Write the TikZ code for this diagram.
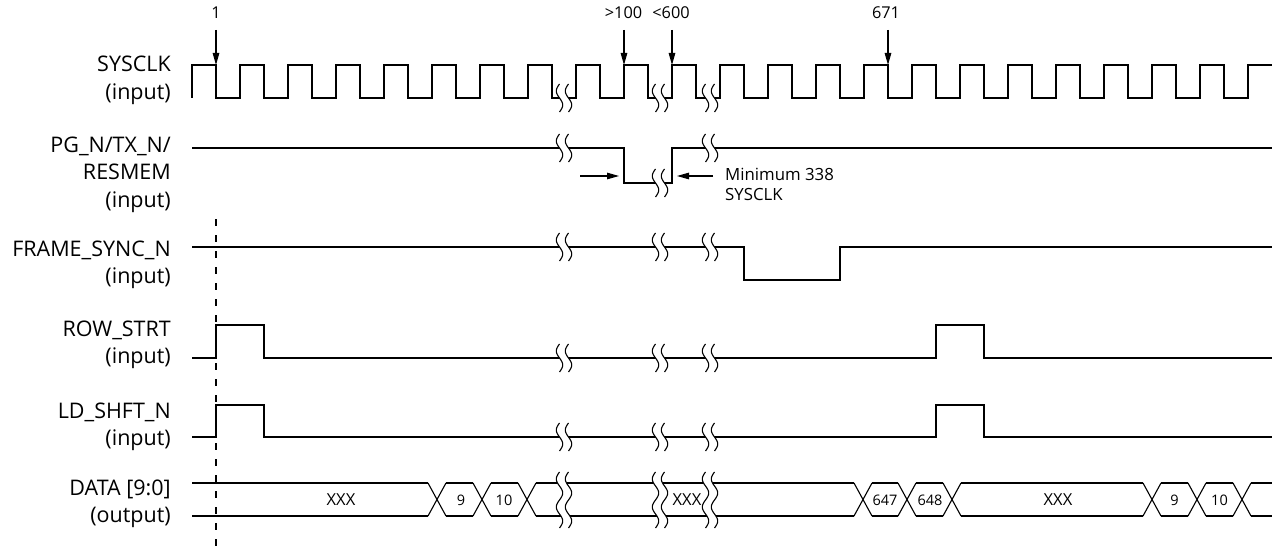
\documentclass[tikz,border=0pt]{standalone}
\usepackage{fontspec}
\setmainfont{Open Sans}
\usetikzlibrary{arrows.meta}
\tikzset{
  wave/.style={line width=1.1pt, line join=miter},
  sig/.style={font=\fontsize{21.5}{24}\selectfont, anchor=base east, inner sep=0pt},
  tick/.style={font=\fontsize{16.3}{18}\selectfont, anchor=base, inner sep=0pt},
  dlab/.style={font=\fontsize{14.5}{16}\selectfont, anchor=base, inner sep=0pt},
  xlab/.style={font=\fontsize{16.5}{18}\selectfont, anchor=base, inner sep=0pt},
  note/.style={font=\fontsize{16.8}{18}\selectfont, anchor=base west, inner sep=0pt},
  marker/.style={line width=1.1pt, -{Triangle[length=12pt,width=6.5pt]}},
  brkline/.style={line width=1.1pt},
}
% short break mark centred at (x,y)
\newcommand\brkmark[2]{%
  \begin{scope}[shift={(#1,#2)}]
    \fill[white] plot[domain=0:28,samples=25] ({-4.5-3.2*sin(12.857143*\x)},{\x-14}) --
      plot[domain=28:0,samples=25] ({4.5-3.2*sin(12.857143*\x)},{\x-14}) -- cycle;
    \draw[brkline] plot[domain=0:28,samples=25,smooth] ({-4.5-3.2*sin(12.857143*\x)},{\x-14});
    \draw[brkline] plot[domain=0:28,samples=25,smooth] ({4.5-3.2*sin(12.857143*\x)},{\x-14});
  \end{scope}}
% tall break mark centred at (x,y)
\newcommand\brkmarktall[2]{%
  \begin{scope}[shift={(#1,#2)}]
    \fill[white] plot[domain=0:56,samples=45] ({-4.5-3.2*sin(12.857143*\x)},{\x-28}) --
      plot[domain=56:0,samples=45] ({4.5-3.2*sin(12.857143*\x)},{\x-28}) -- cycle;
    \draw[brkline] plot[domain=0:56,samples=45,smooth] ({-4.5-3.2*sin(12.857143*\x)},{\x-28});
    \draw[brkline] plot[domain=0:56,samples=45,smooth] ({4.5-3.2*sin(12.857143*\x)},{\x-28});
  \end{scope}}
\begin{document}
\begin{tikzpicture}[x=1pt,y=-1pt]
\useasboundingbox[fill=white] (0,0) rectangle (1275,551);

% ---------- signal names ----------
\node[sig] (n1a) at (171,72) {SYSCLK};
\node[sig] (n1b) at (171,99.5) {(input)};
\node[sig] (n2a) at (171,152) {PG\_N/TX\_N/};
\node[sig] (n2b) at (171,179.5) {RESMEM};
\node[sig] (n2c) at (171,207) {(input)};
\node[sig] (n3a) at (171,256) {FRAME\_SYNC\_N};
\node[sig] (n3b) at (171,283.5) {(input)};
\node[sig] (n4a) at (171,336) {ROW\_STRT};
\node[sig] (n4b) at (171,363.5) {(input)};
\node[sig] (n5a) at (171,418) {LD\_SHFT\_N};
\node[sig] (n5b) at (171,445.5) {(input)};
\node[sig] (n6a) at (171,495) {DATA [9:0]};
\node[sig] (n6b) at (171,522.5) {(output)};

% ---------- dashed reference ----------
\coordinate (dtop) at (216,219);
\coordinate (dbot) at (216,551);
\draw[line width=1.1pt, dash pattern=on 7pt off 9pt] (dtop) -- (dbot);

% ---------- SYSCLK ----------
\draw[wave] (192,98) foreach \i in {1,...,22} { -- ++(0,-33) -- ++(24,0) -- ++(0,33) -- ++(24,0) } -- ++(0,-33) -- ++(24,0);
\brkmark{564}{98}\brkmark{660}{98}\brkmark{710}{98}

% ---------- PG_N/TX_N/RESMEM ----------
\draw[wave] (192,148) -- (624,148) -- (624,183) -- (672,183) -- (672,148) -- (1272,148);
\brkmark{564}{148}\brkmark{660}{183}\brkmark{710}{148}

% ---------- FRAME_SYNC_N ----------
\draw[wave] (192,247) -- (744,247) -- (744,280) -- (840,280) -- (840,247) -- (1272,247);
\brkmark{564}{247}\brkmark{660}{247}\brkmark{710}{247}

% ---------- ROW_STRT ----------
\draw[wave] (192,358) -- (216,358) -- (216,325) -- (264,325) -- (264,358) -- (936,358) -- (936,325) -- (984,325) -- (984,358) -- (1272,358);
\brkmark{564}{358}\brkmark{660}{358}\brkmark{710}{358}

% ---------- LD_SHFT_N ----------
\draw[wave] (192,437) -- (216,437) -- (216,405) -- (264,405) -- (264,437) -- (936,437) -- (936,405) -- (984,405) -- (984,437) -- (1272,437);
\brkmark{564}{437}\brkmark{660}{437}\brkmark{710}{437}

% ---------- DATA ----------
\foreach \a/\b in {192/428, 446/473, 491/518, 536/854, 872/898, 916/943, 961/1143, 1161/1188, 1206/1233, 1251/1272} {
  \draw[wave] (\a,483) -- (\b,483);
  \draw[wave] (\a,516) -- (\b,516);
}
\foreach \c in {437, 482, 527, 863, 907, 952, 1152, 1197, 1242} {
  \draw[wave] (\c-9,483) -- (\c+9,516);
  \draw[wave] (\c-9,516) -- (\c+9,483);
}
\brkmarktall{564}{500}\brkmarktall{660}{500}\brkmarktall{710}{500}
\node[xlab] (d1) at (341,505.5) {XXX};
\node[dlab] (d2) at (461,505.5) {9};
\node[dlab] (d3) at (504,505.5) {10};
\node[xlab] (d4) at (687,505.5) {XXX};
\node[dlab] (d5) at (885,505.5) {647};
\node[dlab] (d6) at (930,505.5) {648};
\node[xlab] (d7) at (1058,505.5) {XXX};
\node[dlab] (d8) at (1174.5,505.5) {9};
\node[dlab] (d9) at (1219.5,505.5) {10};

% ---------- clock markers ----------
\node[tick] (t1) at (216,19) {1};
\node[tick] (t2) at (623.5,19) {>100};
\node[tick] (t3) at (671,19) {<600};
\node[tick] (t4) at (886,19) {671};
\coordinate (e1) at (216,65);
\coordinate (e2) at (624,65);
\coordinate (e3) at (672,65);
\coordinate (e4) at (888,65);
\draw[marker] (216,30) -- (e1);
\draw[marker] (624,30) -- (e2);
\draw[marker] (672,30) -- (e3);
\draw[marker] (888,30) -- (e4);

% ---------- minimum pulse width ----------
\coordinate (m1) at (580,176);
\coordinate (m1e) at (619,176);
\coordinate (m2) at (713,176);
\coordinate (m2e) at (677,176);
\draw[marker] (m1) -- (m1e);
\draw[marker] (m2) -- (m2e);
\node[note] (mn1) at (725,180) {Minimum 338};
\node[note] (mn2) at (725,200) {SYSCLK};
\end{tikzpicture}
\end{document}
